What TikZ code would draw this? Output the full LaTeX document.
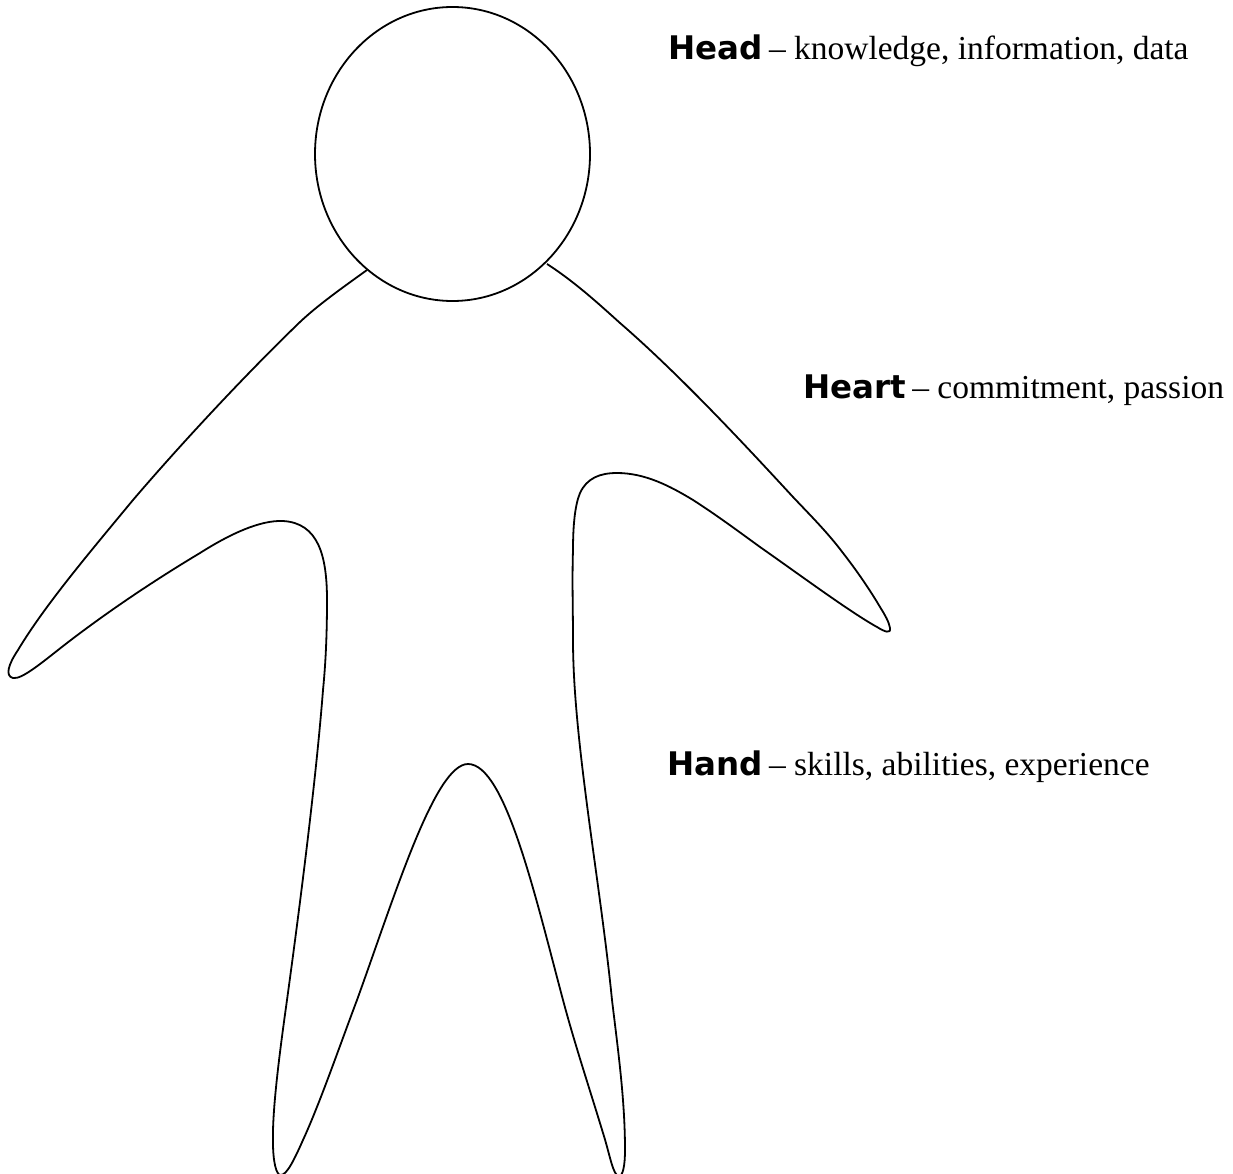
\documentclass[tikz,border=0pt]{standalone}
\usepackage{fontspec}
\usetikzlibrary{shapes.geometric}
\setmainfont{Liberation Serif}
\newfontfamily\headfont{DejaVu Sans}
\tikzset{label text/.style={anchor=base west,inner sep=0pt,font=\fontsize{33.5}{36}\selectfont},
 outline/.style={draw=black,line width=1.8pt}}
\newcommand{\hd}[1]{{\headfont\bfseries\fontsize{32.5}{36}\selectfont #1}\hspace{-2pt}}
\begin{document}
\begin{tikzpicture}[x=1pt,y=-1pt]
\useasboundingbox (0,0) rectangle (1233,1174);
\begin{scope}
\clip (0,0) rectangle (1233,1174);
\draw[outline] (367,270) .. controls (342,288) and (318,305) .. (300,322)
 .. controls (245,375) and (180,445) .. (133,500)
 .. controls (90,552) and (45,605) .. (18,650)
 .. controls (8,665) and (5,676) .. (13,678)
 .. controls (22,680) and (45,660) .. (67,643)
 .. controls (110,610) and (155,580) .. (200,553)
 .. controls (230,534) and (260,520) .. (283,521)
 .. controls (318,523) and (327,555) .. (327,600)
 .. controls (327,630) and (326,660) .. (323,690)
 .. controls (316,780) and (300,905) .. (287,1000)
 .. controls (280,1050) and (272,1110) .. (273,1143)
 .. controls (273,1160) and (276,1176) .. (281,1175)
 .. controls (287,1175) and (295,1158) .. (303,1140)
 .. controls (320,1103) and (340,1045) .. (357,1000)
 .. controls (395,895) and (435,764) .. (468,764)
 .. controls (505,764) and (535,895) .. (563,1000)
 .. controls (575,1045) and (590,1090) .. (603,1133)
 .. controls (610,1155) and (613,1176) .. (619,1176)
 .. controls (623,1176) and (625,1165) .. (625,1150)
 .. controls (625,1100) and (618,1050) .. (612,1000)
 .. controls (600,880) and (573,740) .. (573,640)
 .. controls (573,610) and (572,580) .. (573,550)
 .. controls (573,525) and (575,505) .. (580,493)
 .. controls (587,478) and (600,473) .. (617,473)
 .. controls (645,473) and (670,486) .. (693,500)
 .. controls (715,514) and (738,531) .. (760,547)
 .. controls (800,575) and (850,612) .. (877,627)
 .. controls (885,632) and (891,634) .. (890,628)
 .. controls (889,622) and (885,615) .. (880,607)
 .. controls (870,590) and (857,571) .. (843,553)
 .. controls (828,533) and (811,516) .. (793,497)
 .. controls (745,445) and (680,375) .. (620,323)
 .. controls (600,305) and (575,282) .. (547,264);
\end{scope}
\node[outline,ellipse,minimum width=275pt,minimum height=294pt,inner sep=0pt,fill=white] (head) at (452.5,154) {};
\node[label text] (t1) at (668,59.5) {\hd{Head} – knowledge, information, data};
\node[label text] (t2) at (803,398.5) {\hd{Heart} – commitment, passion};
\node[label text] (t3) at (667,775) {\hd{Hand} – skills, abilities, experience};
\end{tikzpicture}
\end{document}
